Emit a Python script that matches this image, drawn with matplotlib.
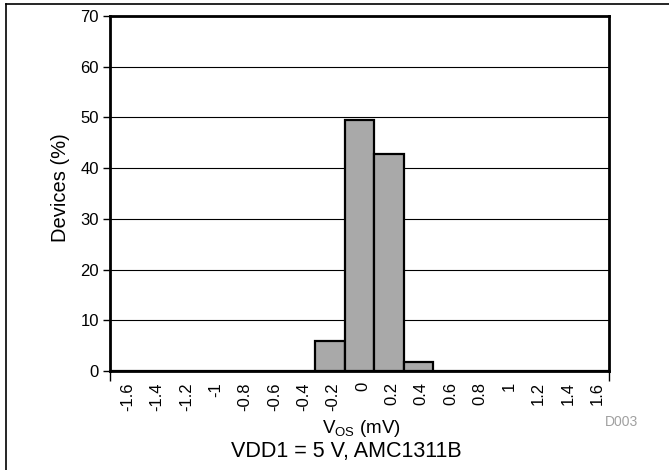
import matplotlib
matplotlib.use("Agg")
import matplotlib.pyplot as plt
from matplotlib.lines import Line2D
import matplotlib.transforms as mtransforms

plt.rcParams['font.family'] = ['Liberation Sans', 'DejaVu Sans']
plt.rcParams['mathtext.fontset'] = 'custom'
plt.rcParams['mathtext.rm'] = 'Liberation Sans'

categories = ['-1.6', '-1.4', '-1.2', '-1', '-0.8', '-0.6', '-0.4', '-0.2',
              '0', '0.2', '0.4', '0.6', '0.8', '1', '1.2', '1.4', '1.6']
values = [0, 0, 0, 0, 0, 0, 0, 6, 49.5, 42.8, 1.8, 0, 0, 0, 0, 0, 0]
yticks = [0, 10, 20, 30, 40, 50, 60, 70]

fig = plt.figure(figsize=(6.69, 4.70), dpi=100)
ax = fig.add_axes([110/669, 1-371/470, (609-110)/669, (371-16)/470])

pos = list(range(len(categories)))
ax.bar(pos, values, width=1.0, color='#a9a9a9', edgecolor='black', linewidth=1.6, zorder=3)

ax.set_xlim(-0.5, len(categories) - 0.5)
ax.set_ylim(0, 70)
ax.set_yticks(yticks)
ax.yaxis.grid(True, color='black', linewidth=0.8, zorder=0)
ax.set_axisbelow(True)

ax.set_xticks(pos)
ax.set_xticklabels(categories, rotation=90, fontsize=12)
ax.tick_params(axis='x', length=0, pad=8)
offset = mtransforms.ScaledTranslation(3/100, 0, fig.dpi_scale_trans)
for lbl in ax.get_xticklabels():
    lbl.set_transform(lbl.get_transform() + offset)
ax.set_xticks([-0.5, len(categories) - 0.5], minor=True)
ax.tick_params(axis='x', which='minor', length=7, width=1, color='black')
ax.tick_params(axis='y', length=5, width=1, labelsize=12, pad=3)

for s in ax.spines.values():
    s.set_linewidth(2)
    s.set_color('black')

fig.text(61/669, 1-188/470, 'Devices (%)', rotation=90, ha='center', va='center', fontsize=14.5)
fig.text(361/669, 1-433/470, r'V$_\mathregular{OS}$ (mV)', ha='center', va='baseline', fontsize=13.5)
fig.text(346/669, 1-457/470, 'VDD1 = 5 V, AMC1311B', ha='center', va='baseline', fontsize=15.5)
fig.text(621/669, 1-422/470, 'D003', ha='center', va='center', fontsize=10, color='#a0a0a0')

fig.add_artist(Line2D([6/669, 6/669], [0, 1-4/470], transform=fig.transFigure, color='black', linewidth=1.2))
fig.add_artist(Line2D([6/669, 1], [1-4/470, 1-4/470], transform=fig.transFigure, color='black', linewidth=1.2))

fig.savefig('out.png', dpi=100)
